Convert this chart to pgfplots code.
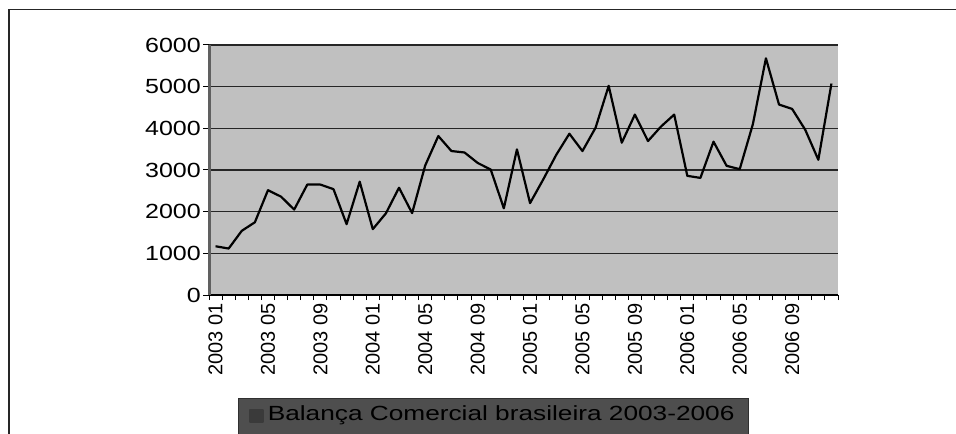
\documentclass[border=0pt]{standalone}
\usepackage{pgfplots}
\pgfplotsset{compat=1.18}
\usepackage{pgfplotstable}
\usepackage{fontspec}
\setmainfont{Liberation Sans}
\newfontfamily\wideface[FakeStretch=1.22]{Liberation Sans}
\newfontfamily\legface[FakeStretch=1.28]{Liberation Sans}

\definecolor{plotbg}{RGB}{192,192,192}
\definecolor{legbg}{RGB}{78,78,78}
\definecolor{legedge}{RGB}{48,48,48}
\definecolor{legmark}{RGB}{58,58,58}
\definecolor{spinegray}{RGB}{96,96,96}

% Monthly balance, 2003-01 .. 2006-12 (index 1..48)
\pgfplotstableread{
idx val
1 1170
2 1115
3 1540
4 1745
5 2515
6 2360
7 2050
8 2650
9 2650
10 2540
11 1700
12 2720
13 1580
14 1960
15 2575
16 1965
17 3110
18 3815
19 3455
20 3420
21 3170
22 3010
23 2080
24 3495
25 2205
26 2770
27 3365
28 3870
29 3455
30 4015
31 5020
32 3655
33 4330
34 3695
35 4045
36 4330
37 2860
38 2810
39 3680
40 3100
41 3020
42 4095
43 5680
44 4570
45 4465
46 3965
47 3245
48 5075
}\balanca

\begin{document}
\begin{tikzpicture}
\useasboundingbox (0,0) rectangle (956bp,434bp);
% outer frame (top and left edges)
\draw[black!85, line width=1.6bp] (9bp,-2bp) -- (9bp,424.5bp) -- (960bp,424.5bp);
\begin{axis}[
  at={(209bp,139bp)}, anchor=south west,
  scale only axis, width=629bp, height=250bp,
  xmin=0.5, xmax=48.5, ymin=0, ymax=6000,
  axis background/.style={fill=plotbg},
  axis lines*=left,
  x axis line style={black, line width=2bp, -},
  y axis line style={spinegray, line width=3bp, -},
  ytick={0,1000,...,6000},
  ymajorgrids, major grid style={black!85, line width=1.1bp},
  xtick={1,5,9,13,17,21,25,29,33,37,41,45},
  xticklabels={2003 01,2003 05,2003 09,2004 01,2004 05,2004 09,2005 01,2005 05,2005 09,2006 01,2006 05,2006 09},
  minor xtick={0.5,1.5,...,48.5},
  tick align=outside,
  major x tick style={draw=none},
  minor x tick style={black, line width=1bp},
  minor tick length=5bp,
  major y tick style={black, line width=1bp},
  major tick length=6bp,
  /pgf/number format/assume math mode=true,
  /pgf/number format/1000 sep={},
  yticklabel style={font=\wideface\fontsize{20.5bp}{24bp}\selectfont, inner sep=2bp},
  xticklabel style={font=\fontsize{20bp}{23bp}\selectfont, rotate=90, anchor=east, inner sep=2bp},
  legend style={at={(0.0461,-0.412)}, anchor=north west,
    draw=legedge, line width=1.2bp, fill=legbg, text=black,
    font=\legface\fontsize{20.5bp}{24bp}\selectfont,
    inner xsep=10bp, inner ysep=5bp,
    nodes={text depth=16bp, inner xsep=4bp}},
  legend image code/.code={\fill[legmark] (0bp,-1bp) rectangle (13bp,11bp);},
]
\addplot[black, line width=2.2bp, line join=round] table[x=idx, y=val] {\balanca};
\addlegendentry{Balança Comercial brasileira 2003-2006}
\end{axis}
\end{tikzpicture}
\end{document}
